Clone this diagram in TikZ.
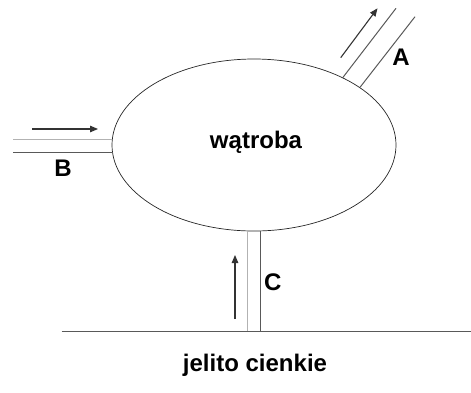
\documentclass[tikz,border=0pt]{standalone}
\usepackage{fontspec}
\setmainfont{Liberation Sans}
\usetikzlibrary{shapes.geometric,arrows.meta}
\begin{document}
\begin{tikzpicture}[x=1pt,y=-1pt,
  lightline/.style={draw=black!30,line width=1pt},
  darkline/.style={draw=black!65,line width=1pt},
  flow/.style={draw=black!80,line width=1.1pt,-{Triangle[length=8pt,width=6.5pt]}},
  lbl/.style={font=\bfseries\fontsize{24}{28}\selectfont,inner sep=0pt},
  organ/.style={draw=black!85,line width=0.7pt,ellipse,minimum width=284pt,minimum height=172pt,inner sep=0pt}]
\useasboundingbox (0,0) rectangle (471,392);
% liver
\node[organ] (liver) at (254,145) {};
\node[lbl,anchor=base] (ltext) at (256,148) {wątroba};
% vessel A
\coordinate (a1s) at (342.7,77.7);
\coordinate (a1e) at (396,8.3);
\coordinate (a2s) at (360,87.3);
\coordinate (a2e) at (415,16.7);
\draw[darkline] (a1s) -- (a1e);
\draw[darkline] (a2s) -- (a2e);
\coordinate (aas) at (340.7,57.7);
\coordinate (aae) at (377.5,8.3);
\draw[flow] (aas) -- (aae);
\node[lbl] (la) at (401,57) {A};
% vessel B
\coordinate (b1s) at (13,139.3);
\coordinate (b1e) at (112.3,139.3);
\coordinate (b2s) at (13,152.7);
\coordinate (b2e) at (112.6,152.7);
\draw[lightline] (b1s) -- (b1e);
\draw[darkline] (b2s) -- (b2e);
\coordinate (bas) at (32,129);
\coordinate (bae) at (98,129);
\draw[flow] (bas) -- (bae);
\node[lbl] (lb) at (63,168) {B};
% vessel C
\coordinate (c1s) at (247.7,331.7);
\coordinate (c1e) at (247.7,230.9);
\coordinate (c2s) at (260,331.7);
\coordinate (c2e) at (260,230.9);
\draw[lightline] (c1s) -- (c1e);
\draw[darkline] (c2s) -- (c2e);
\coordinate (cas) at (235,319);
\coordinate (cae) at (235,255);
\draw[flow] (cas) -- (cae);
\node[lbl] (lc) at (272.7,282.7) {C};
% intestine
\coordinate (g1) at (61.7,331.7);
\coordinate (g2) at (471,331.7);
\draw[darkline] (g1) -- (g2);
\node[lbl,anchor=base] (gtext) at (255,371.7) {jelito cienkie};
\end{tikzpicture}
\end{document}
